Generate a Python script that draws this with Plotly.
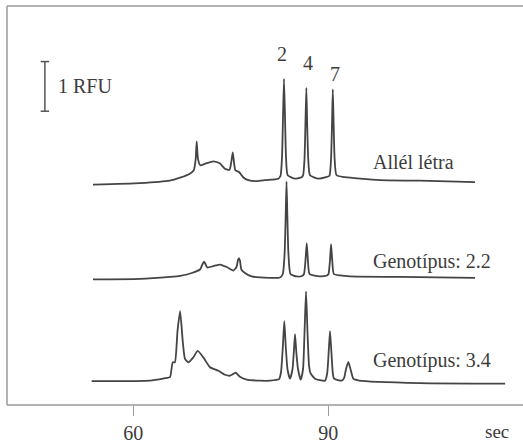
import plotly.graph_objects as go

# ---- data (time in sec, signal in RFU) ----
ladder_t = [53.8, 61.0, 65.6, 67.2, 68.7, 69.3, 69.6, 69.75, 69.95, 70.3, 71.0, 72.3, 73.3, 74.1, 74.8,
            75.1, 75.3, 75.5, 75.7, 76.3, 76.9, 77.7, 79.0, 80.3, 82.3,
            82.65, 82.88, 83.03, 83.18, 83.34, 83.49, 83.75, 84.88, 85.9,
            86.11, 86.34, 86.48, 86.62, 86.75, 86.91, 87.18, 88.46, 89.65,
            90.18, 90.42, 90.57, 90.69, 90.82, 90.97, 91.26, 92.57, 94.88, 97.95, 104.1, 112.57]
ladder_rfu = [4.44, 4.47, 4.52, 4.58, 4.66, 4.73, 4.96, 5.31, 4.96, 4.83, 4.86, 4.91, 4.87, 4.76, 4.74,
              4.92, 5.09, 4.88, 4.73, 4.69, 4.59, 4.53, 4.51, 4.53, 4.56,
              4.62, 5.00, 5.80, 6.57, 5.80, 5.00, 4.63, 4.56, 4.59,
              4.62, 4.96, 5.66, 6.39, 5.66, 4.96, 4.63, 4.56, 4.59,
              4.62, 4.96, 5.66, 6.36, 5.66, 4.96, 4.63, 4.59, 4.56, 4.53, 4.52, 4.49]

geno22_t = [53.8, 61.0, 65.65, 67.2, 69.0, 70.26, 70.65, 70.88, 71.1, 71.38, 72.31, 73.34, 74.37, 75.38,
            75.88, 76.1, 76.26, 76.42, 76.62, 77.18, 78.2, 79.5, 82.57,
            83.0, 83.28, 83.45, 83.57, 83.69, 83.86, 84.18, 85.14, 85.95,
            86.26, 86.49, 86.68, 86.86, 87.11, 88.72, 89.8,
            90.03, 90.26, 90.42, 90.6, 90.85, 91.8, 93.34, 101.0, 112.57]
geno22_rfu = [2.53, 2.54, 2.58, 2.60, 2.66, 2.73, 2.84, 2.89, 2.84, 2.77, 2.80, 2.83, 2.78, 2.71,
              2.78, 2.92, 2.96, 2.90, 2.73, 2.66, 2.59, 2.57, 2.57,
              2.64, 3.06, 3.86, 4.50, 3.86, 3.06, 2.64, 2.59, 2.60,
              2.64, 2.92, 3.26, 2.92, 2.64, 2.59, 2.61,
              2.64, 2.92, 3.24, 2.92, 2.64, 2.61, 2.59, 2.58, 2.56]

geno34_t = [53.6, 62.6, 64.9, 65.65, 66.06, 66.4, 66.8, 67.2, 67.6, 67.95, 68.46, 69.23, 69.9, 70.77,
            71.8, 73.08, 74.1, 74.9, 75.75, 76.4, 77.45, 79.5, 81.03,
            82.42, 82.72, 83.0, 83.23, 83.46, 83.72, 84.1,
            84.49, 84.69, 84.88, 85.08, 85.34, 85.75,
            86.11, 86.34, 86.57, 86.8, 87.03, 87.26, 87.95, 89.49,
            89.83, 90.08, 90.26, 90.45, 90.69, 90.88, 92.06,
            92.42, 92.72, 93.08, 93.42, 93.85, 94.77, 104.1, 117.2]
geno34_rfu = [0.48, 0.49, 0.54, 0.56, 0.86, 0.86, 1.49, 1.89, 1.29, 0.93, 0.86, 0.96, 1.09, 0.96,
              0.76, 0.69, 0.61, 0.59, 0.65, 0.57, 0.51, 0.49, 0.49,
              0.52, 0.66, 1.16, 1.69, 1.16, 0.72, 0.53,
              0.72, 1.06, 1.43, 1.06, 0.72, 0.51,
              0.72, 1.46, 2.29, 1.46, 0.80, 0.64, 0.53, 0.49,
              0.64, 1.12, 1.49, 1.12, 0.64, 0.53, 0.49,
              0.54, 0.72, 0.87, 0.72, 0.53, 0.49, 0.44, 0.43]

trace_names = ["Allél létra", "Genotípus: 2.2", "Genotípus: 3.4"]
name_pos_t = [96.6, 96.6, 96.6]
name_pos_rfu = [4.9, 2.9, 0.9]

allele_labels = ["2", "4", "7"]
allele_t = [82.9, 86.9, 91.0]
allele_rfu = [7.08, 6.9, 6.66]

scale_t = 46.4
scale_bottom = 5.92
scale_height = 1.0
scale_cap = 1.3
scale_label = "1 RFU"

x_ticks = [60, 90]
x_range = [40.57, 119.95]
y_range = [0, 8.04]

line_col = "#444444"
text_col = "#3c3c3c"
frame_col = "#9a9a9a"
FONT = "Liberation Serif"

fig = go.Figure()
for t, r in [(ladder_t, ladder_rfu), (geno22_t, geno22_rfu), (geno34_t, geno34_rfu)]:
    fig.add_trace(go.Scatter(x=t, y=r, mode="lines",
                             line=dict(color=line_col, width=1.8, shape="spline", smoothing=0.5),
                             hoverinfo="skip", showlegend=False))

# scale bar
sb_x = [scale_t - scale_cap / 2, scale_t + scale_cap / 2, None,
        scale_t, scale_t, None,
        scale_t - scale_cap / 2, scale_t + scale_cap / 2]
sb_y = [scale_bottom + scale_height, scale_bottom + scale_height, None,
        scale_bottom + scale_height, scale_bottom, None,
        scale_bottom, scale_bottom]
fig.add_trace(go.Scatter(x=sb_x, y=sb_y, mode="lines",
                         line=dict(color="#555555", width=1.5),
                         hoverinfo="skip", showlegend=False))

annotations = []
annotations.append(dict(x=scale_t + 1.7, y=scale_bottom + scale_height / 2, text=scale_label,
                        xanchor="left", yanchor="middle", showarrow=False,
                        font=dict(family=FONT, size=20, color=text_col)))
for name, tx, ty in zip(trace_names, name_pos_t, name_pos_rfu):
    annotations.append(dict(x=tx, y=ty, text=name, xanchor="left", yanchor="middle",
                            showarrow=False, font=dict(family=FONT, size=20, color=text_col)))
for lab, tx, ty in zip(allele_labels, allele_t, allele_rfu):
    annotations.append(dict(x=tx, y=ty, text=lab, xanchor="center", yanchor="middle",
                            showarrow=False, font=dict(family=FONT, size=20, color=text_col)))
annotations.append(dict(x=116.0, y=-0.067, xref="x", yref="paper", text="sec",
                        xanchor="center", yanchor="middle", showarrow=False,
                        font=dict(family=FONT, size=19, color=text_col)))

fig.update_layout(
    width=523, height=444,
    margin=dict(l=7, r=0, t=6, b=36),
    paper_bgcolor="white", plot_bgcolor="white",
    annotations=annotations,
    font=dict(family=FONT, size=20, color=text_col),
    dragmode=False,
)
fig.update_xaxes(range=x_range, tickvals=x_ticks, ticks="outside", ticklen=10, tickwidth=1.5,
                 tickcolor=frame_col, showline=False, mirror=False,
                 showgrid=False, zeroline=False, fixedrange=True,
                 tickfont=dict(family=FONT, size=20, color=text_col))
fig.update_yaxes(range=y_range, showline=False, mirror=False, fixedrange=True,
                 showgrid=False, zeroline=False, showticklabels=False, ticks="")

# frame: bottom, top and left lines (no right line)
for x0, x1, y0, y1 in [(0, 1, 0, 0), (0, 1, 1, 1), (0, 0, 0, 1)]:
    fig.add_shape(type="line", xref="paper", yref="paper", x0=x0, x1=x1, y0=y0, y1=y1,
                  line=dict(color=frame_col, width=1.5))

post_js = (
    "document.documentElement.style.overflow='hidden';"
    "document.body.style.margin='0';document.body.style.overflow='hidden';"
    "var gd=document.querySelector('.plotly-graph-div');"
    "gd.querySelectorAll('svg *').forEach(function(e){"
    "  if(!e.getBoundingClientRect) return;"
    "  var r=e.getBoundingClientRect();"
    "  if(r.width>0 && r.width<6 && r.height>200 && r.left>400){e.style.display='none';}"
    "});"
)
fig.write_html("out.html", config={"displayModeBar": False, "staticPlot": True},
               post_script=post_js)
